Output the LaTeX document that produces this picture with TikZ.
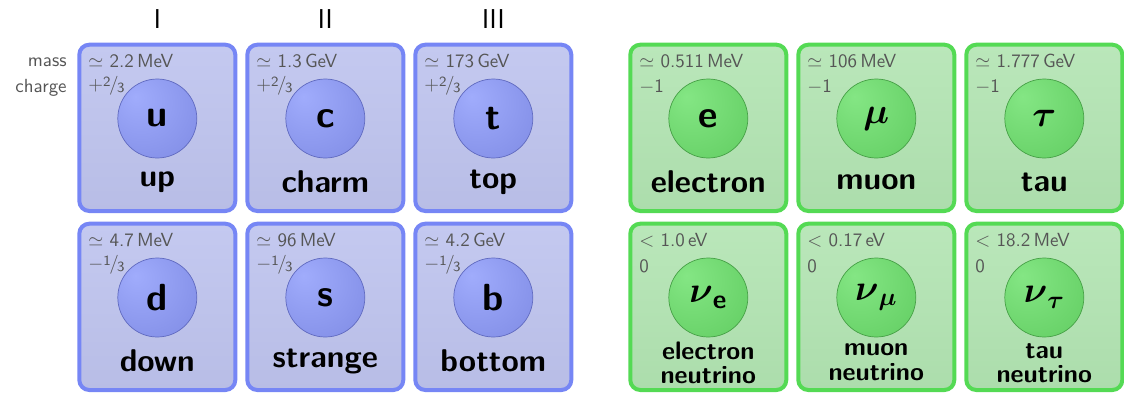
\documentclass[tikz,border=0pt]{standalone}
\usepackage{amsmath}
\usepackage{bm}
\usetikzlibrary{shadings}
\renewcommand{\familydefault}{\sfdefault}

\definecolor{qtop}{RGB}{196,201,240}
\definecolor{qbot}{RGB}{184,189,230}
\definecolor{qline}{RGB}{118,134,245}
\definecolor{qhi}{RGB}{160,172,252}
\definecolor{qlo}{RGB}{110,122,216}
\definecolor{qedge}{RGB}{96,106,192}
\definecolor{ltop}{RGB}{186,231,186}
\definecolor{lbot}{RGB}{172,221,172}
\definecolor{lline}{RGB}{84,218,84}
\definecolor{lhi}{RGB}{132,230,132}
\definecolor{llo}{RGB}{80,192,80}
\definecolor{ledge}{RGB}{70,160,70}
\definecolor{mgray}{RGB}{85,85,85}

\pgfdeclareradialshading{qballsh}{\pgfpoint{-14bp}{14bp}}{color(0bp)=(qhi); color(68bp)=(qlo); color(75bp)=(qlo)}
\pgfdeclareradialshading{lballsh}{\pgfpoint{-14bp}{14bp}}{color(0bp)=(lhi); color(68bp)=(llo); color(75bp)=(llo)}

% charge as a small fraction
\newcommand\qfrac[3]{#1\raisebox{0.55ex}{\fontsize{8}{9}\selectfont#2}\kern-0.08em/\kern-0.08em\raisebox{-0.15ex}{\fontsize{8}{9}\selectfont#3}}
% bold greek symbol on a ball
\newcommand\gsym[1]{$\bm{#1}$}

\begin{document}
\begin{tikzpicture}[x=0.2mm,y=-0.2mm,
  qbox/.style={line width=0.8mm,draw=qline,top color=qtop,bottom color=qbot,rounded corners=2mm},
  lbox/.style={line width=0.8mm,draw=lline,top color=ltop,bottom color=lbot,rounded corners=2mm},
  qball/.style={circle,minimum size=15.8mm,inner sep=0pt,shading=qballsh,draw=qedge,line width=0.4pt,font=\bfseries\fontsize{21.5}{24}\selectfont},
  lball/.style={circle,minimum size=15.8mm,inner sep=0pt,shading=lballsh,draw=ledge,line width=0.4pt,font=\bfseries\fontsize{21.5}{24}\selectfont},
  masslbl/.style={anchor=west,inner sep=0pt,text=mgray,font=\fontsize{10.8}{12}\selectfont},
  sidelbl/.style={anchor=east,inner sep=0pt,text=mgray,font=\fontsize{10.8}{12}\selectfont},
  pname/.style={font=\bfseries\fontsize{17.9}{20}\selectfont},
  nname/.style={align=center,inner sep=0pt,font=\bfseries\fontsize{14.4}{14}\selectfont},
  gen/.style={font=\fontsize{15.5}{18}\selectfont}]
\useasboundingbox (0,0) rectangle (1124,393);

% generations
\node[gen] (g1) at (157.3,19) {I};
\node[gen] (g2) at (325.3,19) {II};
\node[gen] (g3) at (493.3,19) {III};
\node[sidelbl] (lmass) at (67,62) {mass};
\node[sidelbl] (lcharge) at (67,88) {charge};

% quarks
\draw[qbox] (79.3,44.7) rectangle (235.3,211);
\draw[qbox] (247.3,44.7) rectangle (403.3,211);
\draw[qbox] (415.3,44.7) rectangle (571.3,211);
\draw[qbox] (79.3,223.7) rectangle (235.3,390);
\draw[qbox] (247.3,223.7) rectangle (403.3,390);
\draw[qbox] (415.3,223.7) rectangle (571.3,390);
\node[masslbl] (mu) at (88,61) {$\simeq$ 2.2\,MeV};
\node[masslbl] (cu) at (88,86) {\qfrac{+}{2}{3}};
\node[qball] (u) at (157.3,118.5) {u};
\node[pname] (nu) at (157.3,182) {up};
\node[masslbl] (mc) at (256,61) {$\simeq$ 1.3\,GeV};
\node[masslbl] (cc) at (256,86) {\qfrac{+}{2}{3}};
\node[qball] (c) at (325.3,118.5) {c};
\node[pname] (nc) at (325.3,182) {charm};
\node[masslbl] (mt) at (424,61) {$\simeq$ 173\,GeV};
\node[masslbl] (ct) at (424,86) {\qfrac{+}{2}{3}};
\node[qball] (t) at (493.3,118.5) {t};
\node[pname] (nt) at (493.3,182) {top};
\node[masslbl] (md) at (88,240) {$\simeq$ 4.7\,MeV};
\node[masslbl] (cd) at (88,265) {\qfrac{$-$}{1}{3}};
\node[qball] (d) at (157.3,297.5) {d};
\node[pname] (nd) at (157.3,361) {down};
\node[masslbl] (ms) at (256,240) {$\simeq$ 96\,MeV};
\node[masslbl] (cs) at (256,265) {\qfrac{$-$}{1}{3}};
\node[qball] (s) at (325.3,297.5) {s};
\node[pname] (ns) at (325.3,361) {strange};
\node[masslbl] (mb) at (424,240) {$\simeq$ 4.2\,GeV};
\node[masslbl] (cb) at (424,265) {\qfrac{$-$}{1}{3}};
\node[qball] (b) at (493.3,297.5) {b};
\node[pname] (nb) at (493.3,361) {bottom};

% leptons
\draw[lbox] (630.3,44.7) rectangle (786.3,211);
\draw[lbox] (798.3,44.7) rectangle (954.3,211);
\draw[lbox] (966.3,44.7) rectangle (1122.3,211);
\draw[lbox] (630.3,223.7) rectangle (786.3,390);
\draw[lbox] (798.3,223.7) rectangle (954.3,390);
\draw[lbox] (966.3,223.7) rectangle (1122.3,390);
\node[masslbl] (me) at (639,61) {$\simeq$ 0.511\,MeV};
\node[masslbl] (ce) at (639,87) {$-$1};
\node[lball] (e) at (708.3,118.5) {e};
\node[pname] (ne) at (708.3,182) {electron};
\node[masslbl] (mmu) at (807,61) {$\simeq$ 106\,MeV};
\node[masslbl] (cmu) at (807,87) {$-$1};
\node[lball] (muon) at (876.3,118.5) {\gsym{\mu}};
\node[pname] (nmu) at (876.3,182) {muon};
\node[masslbl] (mtau) at (975,61) {$\simeq$ 1.777\,GeV};
\node[masslbl] (ctau) at (975,87) {$-$1};
\node[lball] (tau) at (1044.3,118.5) {\gsym{\tau}};
\node[pname] (ntau) at (1044.3,182) {tau};
\node[masslbl] (mve) at (639,240) {$<$ 1.0\,eV};
\node[masslbl] (cve) at (639,266) {0};
\node[lball] (ve) at (708.3,297.5) {\gsym{\nu}\textsubscript{e}};
\node[nname] (nve) at (708.3,363) {electron\\neutrino};
\node[masslbl] (mvmu) at (807,240) {$<$ 0.17\,eV};
\node[masslbl] (cvmu) at (807,266) {0};
\node[lball] (vmu) at (876.3,297.5) {\gsym{\nu}\textsubscript{\gsym{\mu}}};
\node[nname] (nvmu) at (876.3,362) {muon\\neutrino};
\node[masslbl] (mvtau) at (975,240) {$<$ 18.2\,MeV};
\node[masslbl] (cvtau) at (975,266) {0};
\node[lball] (vtau) at (1044.3,297.5) {\gsym{\nu}\textsubscript{\gsym{\tau}}};
\node[nname] (nvtau) at (1044.3,363) {tau\\neutrino};
\end{tikzpicture}
\end{document}
